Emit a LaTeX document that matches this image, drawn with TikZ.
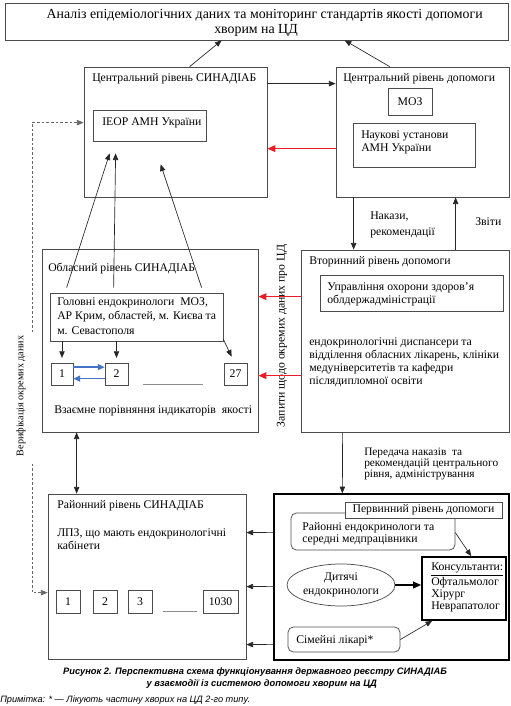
\documentclass[tikz,border=0pt]{standalone}
\usepackage{fontspec}
\setmainfont{Liberation Serif}
\newfontfamily\capsans{Liberation Sans}
\usetikzlibrary{arrows.meta,fit,calc,shapes.geometric}
\newcommand\fsn{\fontsize{8.8}{9.75}\selectfont}
\newcommand\vt[1]{\vtop{\halign{##\hfil\cr#1\crcr}}}
\newcommand\vtc[1]{\vtop{\halign{\hfil##\hfil\cr#1\crcr}}}
\definecolor{myred}{RGB}{235,28,36}
\definecolor{myblue}{RGB}{68,114,196}
\begin{document}
\begin{tikzpicture}[x=0.75pt,y=-0.75pt,
  frame/.style={draw=black!70, line width=0.55pt, inner sep=0pt},
  txt/.style={inner sep=0pt, anchor=base west, font=\fsn},
  ctxt/.style={inner sep=0pt, font=\fsn},
  arr/.style={draw=black!85, line width=0.5pt, -{Triangle[length=5pt,width=4pt]}},
  darr/.style={draw=black!85, line width=0.5pt, {Triangle[length=5pt,width=4pt]}-{Triangle[length=5pt,width=4pt]}},
  redarr/.style={draw=myred, line width=1pt, -{Triangle[length=6pt,width=5pt]}},
  bluearr/.style={draw=myblue, line width=1pt, -{Triangle[length=5pt,width=4.5pt]}},
  dasharr/.style={draw=black!60, line width=0.5pt, dash pattern=on 2pt off 1.5pt, {Triangle[length=5pt,width=4pt]}-},
]
\useasboundingbox (0,0) rectangle (510,706);

% top box
\node[frame, fit={(5,3)(508,40)}] (top) {};
\node[inner sep=0pt, anchor=base, font=\fontsize{10.4}{11.25}\selectfont] (toptxt) at (256,19) {\vtc{\kern13pt Аналіз епідеміологічних даних та моніторинг стандартів якості допомоги\cr хворим на ЦД}};

% central SINADIAB
\node[frame, fit={(84,67)(267,197)}] (csin) {};
\node[txt] (csintxt) at (92,81.5) {Центральний рівень СИНАДІАБ};
\node[frame, fit={(93,110)(206,141)}] (ieor) {};
\node[txt] (ieortxt) at (102,125.5) {ІЕОР АМН України};

% central care
\node[frame, fit={(336,67)(509,197)}] (crd) {};
\node[txt] (crdtxt) at (343,81.5) {Центральний рівень допомоги};
\node[frame, fit={(388,88)(432,115)}] (moz) {};
\node[ctxt] (moztxt) at (moz.center) {МОЗ};
\node[frame, fit={(353,123)(475,167)}] (nauk) {};
\node[txt] (nauktxt) at (361,138.5) {\vt{Наукові установи\cr АМН України}};

% top arrows
\draw[arr] ($(csin.north west)+(106,0)$) -- ($(top.south west)+(217,0)$);
\draw[arr] ($(crd.north west)+(54,0)$) -- ($(top.south west)+(340,0)$);
\draw[arr] ($(csin.north east)+(0,17)$) -- ($(crd.north west)+(0,17)$);
\draw[redarr] ($(crd.north west)+(0,82)$) -- ($(csin.north east)+(0,82)$);

% secondary care
\node[frame, fit={(301,250)(509,432)}] (vtor) {};
\node[txt] (vtortxt) at (309,264.5) {Вторинний рівень допомоги};
\node[frame, fit={(320,275)(503,311)}] (upr) {};
\node[txt] (uprtxt) at (327,290.5) {\vt{Управління охорони здоров’я\cr облдержадміністрації}};
\node[txt] (vtorbody) at (309,345.5) {\vt{ендокринологічні диспансери та\cr відділення обласних лікарень, клініки\cr медуніверситетів та кафедри\cr післядипломної освіти}};

\draw[arr] ($(crd.south west)+(18,0)$) -- ($(vtor.north west)+(53,0)$);
\draw[arr] ($(vtor.north west)+(155,0)$) -- ($(crd.south west)+(120,0)$);
\node[txt, font=\fontsize{8.8}{11.8}\selectfont] (nakaz) at (370,219.5) {\vt{Накази,\cr рекомендації}};
\node[txt] (zvity) at (475,225.5) {Звіти};

% regional SINADIAB
\node[frame, fit={(42,249)(258,432)}] (obl) {};
\node[txt] (obltxt) at (48,271.5) {Обласний рівень СИНАДІАБ};
\node[frame, fit={(50,293)(223,341)}] (golov) {};
\node[txt, font=\fontsize{8.8}{10.8}\selectfont] (golovtxt) at (57,305.5) {\vt{Головні ендокринологи\ \ МОЗ,\cr АР Крим, областей, м. Києва та\cr м. Севастополя}};
\node[frame, fit={(51,363)(73,385)}] (ob1) {};
\node[ctxt] at (ob1.center) {1};
\node[frame, fit={(105,363)(128,385)}] (ob2) {};
\node[ctxt] at (ob2.center) {2};
\node[frame, fit={(224,363)(247,385)}] (ob27) {};
\node[ctxt] at (ob27.center) {27};
\draw[draw=black!45, line width=0.4pt] ($(ob2.south east)+(15,-1)$) -- ($(ob27.south west)+(-21,-1)$);
\node[txt] (vzaem) at (54,413.5) {Взаємне порівняння індикаторів\ \ якості};

\draw[arr, shorten >=3.5pt] (golov.south -| ob1.north) -- (ob1.north);
\draw[arr, shorten >=3.5pt] (golov.south -| ob2.north) -- (ob2.north);
\draw[arr] ($(golov.south east)+(0,-2)$) -- ($(ob27.north west)+(8,-6)$);
\draw[bluearr] ($(ob1.north east)+(0,4.5)$) -- ($(ob2.north west)+(0,4.5)$);
\draw[bluearr] ($(ob2.north west)+(0,16)$) -- ($(ob1.north east)+(0,16)$);

\draw[arr] ($(golov.north west)+(17,-5)$) -- ($(ieor.south west)+(17,12)$);
\draw[arr] ($(golov.north west)+(64,-5)$) -- ($(ieor.south west)+(23,12)$);
\draw[arr] ($(golov.north west)+(152,-5)$) -- ($(ieor.south west)+(68,23)$);

\node[ctxt, rotate=90] (zapyty) at (282,336) {Запити щодо окремих даних про ЦД};
\draw[redarr] ($(vtor.north west)+(0,47)$) -- ($(obl.north east)+(0,48)$);
\draw[redarr] ($(vtor.north west)+(0,126)$) -- ($(obl.north east)+(0,127)$);

% district SINADIAB
\node[frame, fit={(48,494)(246,659)}] (ray) {};
\node[txt] (raytxt) at (57,508.5) {Районний рівень СИНАДІАБ};
\node[txt] (lpz) at (57,536.5) {\vt{ЛПЗ, що мають ендокринологічні\cr кабінети}};
\node[frame, fit={(56,590)(80,613)}] (r1) {};
\node[ctxt] at (r1.center) {1};
\node[frame, fit={(93,590)(117,613)}] (r2) {};
\node[ctxt] at (r2.center) {2};
\node[frame, fit={(128,590)(152,613)}] (r3) {};
\node[ctxt] at (r3.center) {3};
\node[frame, fit={(203,590)(238,613)}] (r1030) {};
\node[ctxt] at (r1030.center) {1030};
\draw[draw=black!45, line width=0.4pt] ($(r3.south east)+(11,-2)$) -- ($(r1030.south west)+(-6,-2)$);

\draw[darr] ($(obl.south west)+(35,0)$) -- ($(ray.north west)+(29,0)$);

% verification
\draw[dasharr] ($(csin.north west)+(0,56)$) -| (32,332);
\draw[dasharr] ($(ray.north west)+(0,99)$) -| (32,462);
\node[ctxt, rotate=90, font=\fontsize{7.6}{9}\selectfont] (verif) at (21,396) {Верифікація окремих даних};

% primary care
\node[draw=black, line width=1pt, inner sep=0pt, fit={(274,494)(509,660)}] (perv) {};
\draw[arr] ($(vtor.south west)+(42,0)$) -- ($(perv.north west)+(69,0)$);
\node[txt, font=\fontsize{8.5}{8.1}\selectfont] (peredacha) at (364,455.5) {\vt{Передача наказів\ \ та\cr рекомендацій центрального\cr рівня, адміністрування}};
\draw[arr] ($(perv.north west)+(0,39)$) -- ($(ray.north east)+(0,39)$);
\draw[arr] ($(perv.north west)+(0,93)$) -- ($(ray.north east)+(0,93)$);
\draw[arr] ($(perv.north west)+(0,151)$) -- ($(ray.north east)+(0,151)$);

\node[frame, rounded corners=4pt, fit={(291,513)(455,550)}] (raion) {};
\node[txt, font=\fontsize{8.8}{8.8}\selectfont] (raiontxt) at (302,530.5) {\vt{Районні ендокринологи та\cr середні медпрацівники}};
\node[frame, fill=white, fit={(345,502)(502,518)}] (pervlab) {};
\node[ctxt] (pervlabtxt) at (pervlab.center) {Первинний рівень допомоги};

\node[draw=black, line width=1.2pt, inner sep=0pt, fit={(422,557)(506,620)}] (kons) {};
\node[txt, font=\fontsize{8.8}{9.2}\selectfont] (konstxt) at (431,570.5) {\vt{\underline{Консультанти:}\cr Офтальмолог\cr Хірург\cr Неврапатолог}};

\node[draw=black!70, line width=0.55pt, ellipse, minimum width=81pt, minimum height=31.5pt, inner sep=0pt, font=\fontsize{8.8}{11}\selectfont] (ell) at (341,585) {\raisebox{4pt}{\vtc{Дитячі\cr ендокринологи}}};
\node[frame, rounded corners=4pt, fit={(288,627)(400,652)}] (sim) {};
\node[txt] (simtxt) at (296,643.5) {Сімейні лікарі*};

\draw[draw=black, line width=1.1pt, -{Triangle[length=6pt,width=5pt]}] (ell.east) -- (ell.east -| kons.west);
\draw[arr] ($(raion.north east)+(0,20)$) -- ($(kons.north west)+(50,0)$);
\draw[arr] (sim.east) -- ($(kons.south west)+(11,0)$);

% caption
\node[inner sep=0pt, font=\capsans\bfseries\itshape\fontsize{7}{9}\selectfont] (cap) at (255,678) {\vtc{Рисунок 2. Перспективна схема функціонування державного реєстру СИНАДІАБ\cr \kern10pt у взаємодії із системою допомоги хворим на ЦД}};
\node[inner sep=0pt, anchor=west, font=\capsans\itshape\fontsize{6.9}{8}\selectfont] (note) at (0,700) {Примітка: * — Лікують частину хворих на ЦД 2-го типу.};
\end{tikzpicture}
\end{document}
